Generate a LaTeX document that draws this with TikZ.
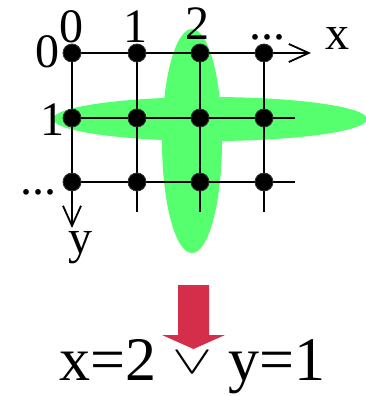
\documentclass[tikz,border=0pt]{standalone}
\usepackage{graphicx}
\usepackage{fontspec}
\setmainfont{Liberation Serif}
\usetikzlibrary{arrows.meta}
\definecolor{lgreen}{RGB}{85,255,110}
\definecolor{cred}{RGB}{213,46,75}
\tikzset{
  dot/.style={circle,fill=black,draw=black!80,line width=0.8pt,inner sep=0pt,minimum size=18pt},
  gline/.style={line width=1.8pt},
  axarrow/.style={gline,-{Straight Barb[length=20pt,width=18pt,line width=1.8pt]}},
  lab/.style={font=\fontsize{48}{52}\selectfont,inner sep=0pt,anchor=base}
}
\begin{document}
\begin{tikzpicture}[x=1pt,y=-1pt]
\useasboundingbox (0,0) rectangle (365,396);
% green ellipses
\fill[lgreen] (210,119) ellipse[x radius=157,y radius=22];
\fill[lgreen] (192,141) ellipse[x radius=30,y radius=112];
% coordinates
\foreach \i/\x in {0/72,1/137,2/200,3/264}{
  \foreach \j/\y in {0/53,1/118,2/182}{
    \coordinate (c\i\j) at (\x,\y);
  }
}
\coordinate (xend) at (311,53);
\coordinate (r1end) at (295,118);
\coordinate (r2end) at (295,182);
\coordinate (yend) at (72,228);
\coordinate (v1end) at (137,212);
\coordinate (v2end) at (200,212);
\coordinate (v3end) at (264,212);
% grid lines
\draw[axarrow] (c00) -- (xend);
\draw[gline] (c01) -- (r1end);
\draw[gline] (c02) -- (r2end);
\draw[axarrow] (c00) -- (yend);
\draw[gline] (c10) -- (v1end);
\draw[gline] (c20) -- (v2end);
\draw[gline] (c30) -- (v3end);
% dots
\foreach \i in {0,1,2,3}{
  \foreach \j in {0,1,2}{
    \node[dot] (d\i\j) at (c\i\j) {};
  }
}
% labels
\node[lab] (t0) at (71,43) {0};
\node[lab] (t1) at (135,43) {1};
\node[lab] (t2) at (197,40) {2};
\node[lab] (tdots) at (267,40) {...};
\node[lab] (tx) at (337,50) {x};
\node[lab] (r0) at (47,67) {0};
\node[lab] (r1) at (52,135) {1};
\node[lab] (rdots) at (38,194) {...};
\node[lab] (ty) at (80,253) {y};
% red arrow
\fill[cred] (178,285) -- (209,285) -- (209,335) -- (225,335) -- (193.5,349) -- (162,335) -- (178,335) -- cycle;
% formula
\node[font=\fontsize{62}{66}\selectfont,inner sep=0pt,anchor=base west] (f) at (59,380) {x=2\hspace{16pt}\raisebox{7pt}{\resizebox{40pt}{22pt}{$\vee$}}\hspace{16pt}y=1};
\end{tikzpicture}
\end{document}
